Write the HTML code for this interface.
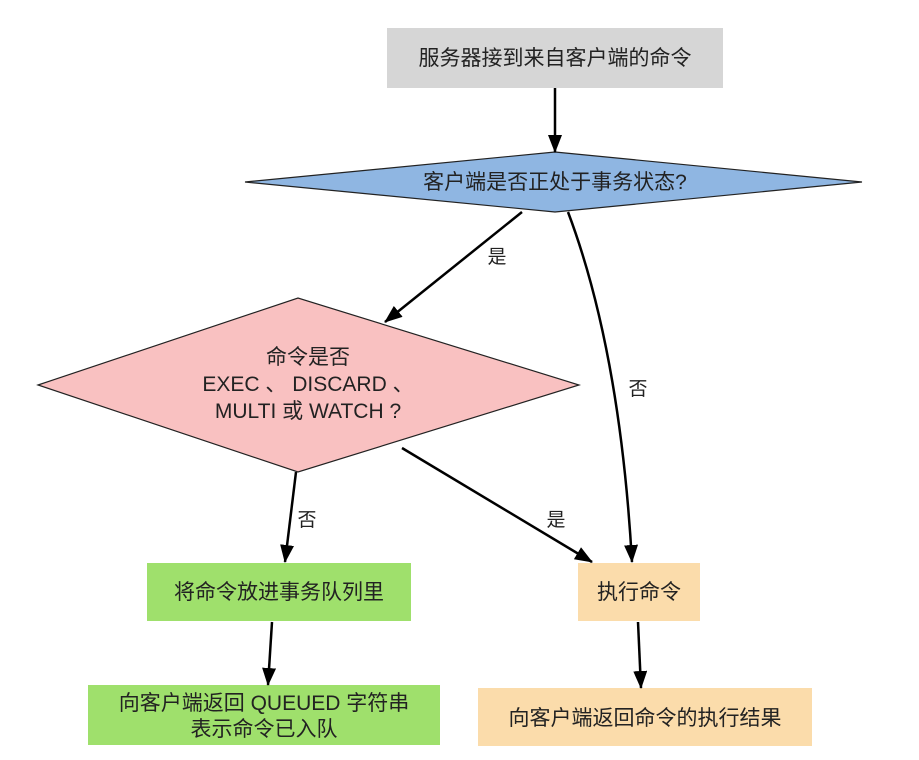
<!DOCTYPE html>
<html><head><meta charset="utf-8"><style>
body{margin:0;background:#fff;width:919px;height:755px;overflow:hidden}
svg text{font-family:"Liberation Sans","Noto Sans CJK SC",sans-serif;font-size:21px;fill:#222}
</style></head><body>
<svg width="919" height="755" viewBox="0 0 919 755">
<defs>
<marker id="b" markerWidth="18" markerHeight="14" refX="17" refY="7" orient="auto" markerUnits="userSpaceOnUse"><path d="M0,0 L18,7 L0,14 z" fill="#000"/></marker></defs>
<rect x="387" y="28" width="336" height="60" fill="#d6d6d6"/>
<text x="555" y="65" text-anchor="middle">服务器接到来自客户端的命令</text>
<polygon points="245,182 555,152 862,182 555,212" fill="#8fb6e2" stroke="#222" stroke-width="1.2"/>
<text x="555" y="189" text-anchor="middle">客户端是否正处于事务状态?</text>
<polygon points="38,385 298,298 579,385 298,472" fill="#f9c1c1" stroke="#222" stroke-width="1.2"/>
<text x="308" y="364" text-anchor="middle">命令是否</text>
<text x="308" y="391" text-anchor="middle">EXEC 、 DISCARD 、</text>
<text x="308" y="418" text-anchor="middle">MULTI 或 WATCH ?</text>
<rect x="147" y="563" width="264" height="58" fill="#9fe06c"/>
<text x="279" y="599" text-anchor="middle">将命令放进事务队列里</text>
<rect x="578" y="563" width="122" height="58" fill="#fbdcab"/>
<text x="639" y="599" text-anchor="middle">执行命令</text>
<rect x="88" y="685" width="352" height="60" fill="#9fe06c"/>
<text x="264" y="710" text-anchor="middle">向客户端返回 QUEUED 字符串</text>
<text x="264" y="736" text-anchor="middle">表示命令已入队</text>
<rect x="478" y="688" width="334" height="58" fill="#fbdcab"/>
<text x="645" y="725" text-anchor="middle">向客户端返回命令的执行结果</text>
<g stroke="#000" stroke-width="2.5" fill="none">
<line x1="555" y1="88" x2="555" y2="152" marker-end="url(#b)"/>
<line x1="522" y1="212" x2="385" y2="322" marker-end="url(#b)"/>
<path d="M568,212 Q620,350 632,562" marker-end="url(#b)"/>
<line x1="296" y1="472" x2="285" y2="562" marker-end="url(#b)"/>
<line x1="402" y1="448" x2="592" y2="562" marker-end="url(#b)"/>
<line x1="272" y1="622" x2="268" y2="685" marker-end="url(#b)"/>
<line x1="638" y1="622" x2="641" y2="688" marker-end="url(#b)"/>
</g>
<g style="font-size:19px">
<text x="497" y="263" text-anchor="middle" style="font-size:19px">是</text>
<text x="638" y="395" text-anchor="middle" style="font-size:19px">否</text>
<text x="307" y="526" text-anchor="middle" style="font-size:19px">否</text>
<text x="556" y="526" text-anchor="middle" style="font-size:19px">是</text>
</g>
</svg>
</body></html>
